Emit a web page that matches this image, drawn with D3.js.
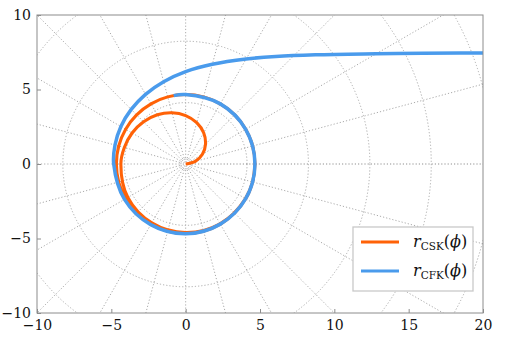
<!DOCTYPE html>
<html>
<head>
<meta charset="utf-8">
<script src="https://cdn.jsdelivr.net/npm/d3@7"></script>
<style>
  body { margin: 0; background: #fff; }
  svg text { font-family: "DejaVu Serif", "Liberation Serif", serif; }
</style>
</head>
<body>
<svg id="chart" width="523" height="345"></svg>
<script>
// values, polar form: angle in degrees, radius in axis units
const cskPhi = [0, 15, 30, 45, 60, 75, 90, 105, 120, 135, 150, 165, 180, 210, 240, 270, 300, 330, 360,
                390, 420, 450, 480, 510, 540, 570, 600, 630, 660, 690, 705, 720]
const cskR = [0, 0.67, 1.30, 1.89, 2.42, 2.87, 3.25, 3.56, 3.81, 4.00, 4.16, 4.27, 4.36, 4.49, 4.56, 4.60, 4.63, 4.65, 4.66,
              4.66, 4.66, 4.66, 4.66, 4.66, 4.66, 4.66, 4.66, 4.66, 4.66, 4.66, 4.66, 4.66]

const cfkPhi = [19, 25, 30, 40, 50, 60, 75, 90, 105, 120, 135, 150, 165, 180, 210, 240, 270, 300, 330, 360,
                390, 420, 450, 460]
const cfkR = [22.9, 17.6, 14.8, 11.4, 9.42, 8.14, 6.93, 6.20, 5.72, 5.40, 5.18, 5.03, 4.92, 4.84, 4.75, 4.70, 4.68, 4.66, 4.66, 4.66,
              4.66, 4.66, 4.66, 4.66]

const gridRadii = [0.16, 0.32, 4.13, 8.26, 12.39, 16.52, 20.65]
const gridAngles = d3.range(0, 360, 15)

const xTicks = [-10, -5, 0, 5, 10, 15, 20]
const yTicks = [-10, -5, 0, 5, 10]

const seriesNames = ['CSK', 'CFK']
const seriesColors = ['#ff6207', '#4a9bec']
const seriesWidths = [3.1, 3.5]

const fontStack = '"DejaVu Serif", "Liberation Serif", serif'

const svg = d3.select('#chart')
const margin = {top: 15, right: 40, bottom: 32, left: 37}
const width = 523 - margin.left - margin.right
const height = 345 - margin.top - margin.bottom

const x = d3.scaleLinear().domain([-10, 20]).range([0, width])
const y = d3.scaleLinear().domain([-10, 10]).range([height, 0])

const g = svg.append('g').attr('transform', `translate(${margin.left},${margin.top})`)

g.append('clipPath').attr('id', 'plot-clip')
    .append('rect').attr('width', width).attr('height', height)

const plot = g.append('g').attr('clip-path', 'url(#plot-clip)')

// polar grid
const grid = plot.append('g')
    .attr('fill', 'none')
    .attr('stroke', '#ababab')
    .attr('stroke-width', 1)
    .attr('stroke-dasharray', '1.2,2')

grid.selectAll('circle')
    .data(gridRadii)
    .join('circle')
    .attr('cx', x(0))
    .attr('cy', y(0))
    .attr('r', d => x(d) - x(0))
    .attr('stroke-dasharray', d => d < 1 ? '1,0.8' : null)
    .attr('stroke', d => d < 1 ? '#999' : null)

grid.selectAll('line')
    .data(gridAngles)
    .join('line')
    .attr('x1', d => x(0.4 * Math.cos(d * Math.PI / 180)))
    .attr('y1', d => y(0.4 * Math.sin(d * Math.PI / 180)))
    .attr('x2', d => x(30 * Math.cos(d * Math.PI / 180)))
    .attr('y2', d => y(30 * Math.sin(d * Math.PI / 180)))
    .attr('stroke', d => d === 0 ? '#8f8f8f' : null)

// curves
const toXY = (phi, r) => phi.map((p, i) => [r[i] * Math.cos(p * Math.PI / 180), r[i] * Math.sin(p * Math.PI / 180)])

const line = d3.line()
    .x(d => x(d[0]))
    .y(d => y(d[1]))
    .curve(d3.curveCatmullRom)

const series = [toXY(cskPhi, cskR), toXY(cfkPhi, cfkR)]

plot.selectAll('path.curve')
    .data(series)
    .join('path')
    .attr('class', 'curve')
    .attr('d', line)
    .attr('fill', 'none')
    .attr('stroke', (d, i) => seriesColors[i])
    .attr('stroke-width', (d, i) => seriesWidths[i])

// axes
const fmt = d => d3.format('d')(d)

const xAxis = g.append('g')
    .attr('transform', `translate(0,${height})`)
    .call(d3.axisBottom(x).tickValues(xTicks).tickSizeInner(-4).tickSizeOuter(0).tickPadding(7).tickFormat(fmt))
const yAxis = g.append('g')
    .call(d3.axisLeft(y).tickValues(yTicks).tickSizeInner(-4).tickSizeOuter(0).tickPadding(6).tickFormat(fmt))

for (const ax of [xAxis, yAxis]) {
    ax.attr('font-family', fontStack)
    ax.select('.domain').remove()
    ax.selectAll('line').attr('stroke', '#8c8c8c')
    ax.selectAll('text').attr('font-size', 14).attr('fill', '#111')
        .style('font-family', fontStack)
}

g.append('rect')
    .attr('width', width)
    .attr('height', height)
    .attr('fill', 'none')
    .attr('stroke', '#8c8c8c')
    .attr('stroke-width', 1)

// legend
const legend = g.append('g').attr('transform', `translate(${353 - margin.left},${227 - margin.top})`)
legend.append('rect')
    .attr('width', 120)
    .attr('height', 64)
    .attr('fill', '#fff')
    .attr('stroke', '#c9c9c9')
    .attr('stroke-width', 1.3)

const item = legend.selectAll('g.item')
    .data(seriesNames)
    .join('g')
    .attr('class', 'item')
    .attr('transform', (d, i) => `translate(0,${15 + i * 29})`)

item.append('line')
    .attr('x1', 8).attr('x2', 46)
    .attr('stroke', (d, i) => seriesColors[i])
    .attr('stroke-width', 3)

const label = item.append('text')
    .attr('x', 60)
    .attr('y', 5)
    .attr('font-size', 16)
    .style('font-family', fontStack)
    .attr('fill', '#111')
label.append('tspan').attr('font-style', 'italic').text('r')
label.append('tspan').attr('font-size', 10.5).attr('dy', 3).text(d => d)
label.append('tspan').attr('dy', -3).text('(')
label.append('tspan').attr('font-style', 'italic').text('ϕ')
label.append('tspan').text(')')
</script>
</body>
</html>
